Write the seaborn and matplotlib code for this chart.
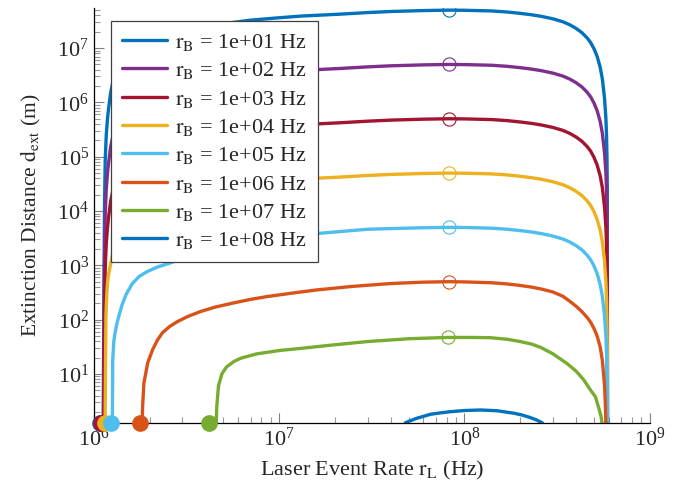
import numpy as np
import pandas as pd
import matplotlib
matplotlib.use("Agg")
import matplotlib.pyplot as plt
import seaborn as sns
from matplotlib.ticker import FixedLocator, LogLocator, NullFormatter

# r_B values (Hz) and colours (MATLAB default order)
rb_labels = ["1e+01", "1e+02", "1e+03", "1e+04", "1e+05", "1e+06", "1e+07", "1e+08"]
colors = ["#0072BD", "#7E2F8E", "#A2142F", "#EDB120", "#4DBEEE", "#D95319", "#77AC30", "#0072BD"]
x_ticks = [1e6, 1e7, 1e8, 1e9]
y_ticks = [1e1, 1e2, 1e3, 1e4, 1e5, 1e6, 1e7]

# curves: r_L (Hz) -> d_ext (m)
x_top = [1.12e6, 1.13e6, 1.14e6, 1.15e6, 1.165e6, 1.183e6, 1.2e6, 1.23e6, 1.26e6, 1.3e6, 1.4e6,
         1.5e6, 1.7e6, 2e6, 2.5e6, 3e6, 4e6, 5e6, 7e6, 1e7, 1.3e7, 2.14e7, 3e7, 4e7, 6e7, 8.26e7,
         1e8, 1.4e8, 1.7e8, 2e8, 2.3e8, 2.6e8, 3e8, 3.4e8, 3.7e8, 4e8, 4.3e8, 4.6e8, 4.8e8, 5e8,
         5.2e8, 5.4e8, 5.55e8, 5.7e8, 5.8e8, 5.85e8, 5.88e8, 5.9e8, 5.92e8]
d_rb1 = [0.5, 158, 1.26e4, 8.9e4, 2.5e5, 5.0e5, 7.9e5, 1.51e6, 2.24e6, 3.16e6, 5.25e6,
         7.05e6, 1.05e7, 1.41e7, 1.78e7, 2.09e7, 2.5e7, 2.81e7, 3.27e7, 3.62e7, 3.88e7, 4.22e7, 4.51e7, 4.72e7, 4.91e7, 5.0e7,
         4.97e7, 4.83e7, 4.62e7, 4.36e7, 4.11e7, 3.84e7, 3.46e7, 3.05e7, 2.69e7, 2.31e7, 1.93e7, 1.53e7, 1.26e7, 9.75e6,
         7.05e6, 4.46e6, 2.69e6, 1.2e6, 5.0e5, 2.24e5, 8.9e4, 2.5e4, 0.05]
d_rb2 = [0.05, 15.8, 1.26e3, 8.9e3, 2.5e4, 5.0e4, 7.9e4, 1.51e5, 2.24e5, 3.16e5, 5.25e5,
         7.05e5, 1.05e6, 1.41e6, 1.78e6, 2.09e6, 2.5e6, 2.81e6, 3.27e6, 3.62e6, 3.88e6, 4.22e6, 4.51e6, 4.72e6, 4.91e6, 5.0e6,
         4.97e6, 4.83e6, 4.62e6, 4.36e6, 4.11e6, 3.84e6, 3.46e6, 3.05e6, 2.69e6, 2.31e6, 1.93e6, 1.53e6, 1.26e6, 9.75e5,
         7.05e5, 4.46e5, 2.69e5, 1.2e5, 5.0e4, 2.24e4, 8.9e3, 2.5e3, 0.005]
d_rb3 = [0.005, 1.58, 126, 890, 2.5e3, 5.0e3, 7.9e3, 1.51e4, 2.24e4, 3.16e4, 5.25e4,
         7.05e4, 1.05e5, 1.41e5, 1.78e5, 2.09e5, 2.5e5, 2.81e5, 3.27e5, 3.62e5, 3.88e5, 4.22e5, 4.51e5, 4.72e5, 4.91e5, 5.0e5,
         4.97e5, 4.83e5, 4.62e5, 4.36e5, 4.11e5, 3.84e5, 3.46e5, 3.05e5, 2.69e5, 2.31e5, 1.93e5, 1.53e5, 1.26e5, 9.75e4,
         7.05e4, 4.46e4, 2.69e4, 1.2e4, 5.0e3, 2.24e3, 890, 250, 5e-4]
x_rb4 = [1.14e6, 1.152e6, 1.16e6, 1.17e6, 1.183e6, 1.2e6, 1.233e6, 1.26e6, 1.3e6, 1.4e6,
         1.5e6, 1.7e6, 2e6, 2.5e6, 3e6, 4e6, 5e6, 7e6, 1e7, 1.3e7, 2.14e7, 3e7, 4e7, 6e7, 8.26e7,
         1e8, 1.4e8, 1.7e8, 2e8, 2.3e8, 2.6e8, 3e8, 3.4e8, 3.7e8, 4e8, 4.3e8, 4.6e8, 4.8e8, 5e8,
         5.2e8, 5.4e8, 5.55e8, 5.7e8, 5.8e8, 5.85e8, 5.88e8, 5.9e8, 5.92e8]
d_rb4 = [0.05, 6.3, 112, 250, 480, 700, 1.1e3, 1.6e3, 2.4e3, 4.5e3,
         6.3e3, 1.05e4, 1.41e4, 1.78e4, 2.09e4, 2.5e4, 2.81e4, 3.27e4, 3.62e4, 3.88e4, 4.22e4, 4.51e4, 4.72e4, 4.91e4, 5.0e4,
         4.97e4, 4.83e4, 4.62e4, 4.36e4, 4.11e4, 3.84e4, 3.46e4, 3.05e4, 2.69e4, 2.31e4, 1.93e4, 1.53e4, 1.26e4, 9.75e3,
         7.05e3, 4.46e3, 2.69e3, 1.2e3, 500, 224, 89, 25, 5e-5]
x_rb5 = [1.255e6, 1.262e6, 1.28e6, 1.30e6, 1.33e6, 1.37e6, 1.42e6, 1.49e6, 1.61e6, 1.75e6, 1.94e6,
         2.2e6, 2.49e6, 3e6, 4e6, 5e6, 7e6, 1e7, 1.64e7, 2.99e7, 4e7, 6e7, 8.26e7,
         1e8, 1.4e8, 1.7e8, 2e8, 2.3e8, 2.6e8, 3e8, 3.4e8, 3.7e8, 4e8, 4.3e8, 4.6e8, 4.8e8, 5e8,
         5.2e8, 5.4e8, 5.55e8, 5.7e8, 5.8e8, 5.85e8, 5.88e8, 5.9e8, 5.92e8]
d_rb5 = [0.3, 18, 40, 57, 85, 125, 190, 290, 460, 620, 770,
         930, 1064, 1315, 1775, 2235, 2810, 3230, 3880, 4615, 4750, 4920, 5000,
         4970, 4830, 4620, 4360, 4110, 3840, 3460, 3050, 2690, 2310, 1930, 1530, 1260, 975,
         705, 446, 269, 120, 50, 22.4, 8.9, 2.5, 1e-5]
x_rb6 = [1.805e6, 1.83e6, 1.86e6, 1.95e6, 2.07e6, 2.2e6, 2.34e6, 2.55e6, 2.82e6, 3.2e6, 3.76e6,
         4.5e6, 5.66e6, 7e6, 8.6e6, 1.2e7, 1.6e7, 2.5e7, 4.0e7, 6e7, 8.26e7,
         1e8, 1.4e8, 1.7e8, 2e8, 2.3e8, 2.6e8, 3e8, 3.4e8, 3.7e8, 4e8, 4.3e8, 4.6e8, 4.8e8, 5e8,
         5.2e8, 5.4e8, 5.55e8, 5.7e8, 5.76e8, 5.8e8, 5.83e8]
d_rb6 = [0.3, 2.5, 6.8, 16, 27.7, 42, 57, 74, 92, 114, 141,
         170, 203, 236, 266, 311, 353, 410, 462, 490, 500,
         495, 478, 454, 426, 397, 366, 323, 269, 218, 177, 141, 109, 89, 69,
         50, 31.5, 17.7, 6.3, 2.8, 1.1, 0.05]
x_rb7 = [4.52e6, 4.6e6, 4.7e6, 4.9e6, 5.2e6, 5.7e6, 6.2e6, 7.6e6, 1.0e7, 1.3e7, 2.0e7, 3.0e7,
         5.0e7, 8.1e7, 1.1e8, 1.38e8, 1.7e8, 2.0e8, 2.3e8, 2.57e8, 3.0e8, 3.58e8, 4.0e8, 4.4e8,
         4.8e8, 5.09e8, 5.3e8, 5.45e8, 5.53e8, 5.57e8]
d_rb7 = [0.3, 2.5, 6, 10, 13.5, 17, 19.5, 23.5, 27, 29.5, 34.5, 39.5,
         44.5, 47, 47, 46.5, 43.5, 39.5, 35.5, 31, 23.5, 15.5, 11.3, 7.8,
         5.0, 3.8, 2.4, 1.7, 1.25, 0.05]
x_rb8 = [4.5e7, 4.81e7, 5.5e7, 6.56e7, 7.5e7, 8.4e7, 1.0e8, 1.22e8, 1.5e8, 1.85e8, 2.05e8,
         2.27e8, 2.45e8, 2.62e8, 2.8e8]
d_rb8 = [0.8, 1.27, 1.52, 1.81, 1.93, 2.02, 2.12, 2.17, 2.1, 1.89, 1.75,
         1.57, 1.42, 1.27, 0.9]

# optimum (open circles) and lower limit of r_L (filled dots)
peak_x = [8.26e7, 8.26e7, 8.26e7, 8.26e7, 8.26e7, 8.26e7, 8.1e7]
peak_d = [5e7, 5e6, 5e5, 5e4, 5e3, 500, 47]
start_x = [1.08e6, 1.085e6, 1.09e6, 1.14e6, 1.23e6, 1.78e6, 4.17e6]

curves = [(x_top, d_rb1), (x_top, d_rb2), (x_top, d_rb3), (x_rb4, d_rb4),
          (x_rb5, d_rb5), (x_rb6, d_rb6), (x_rb7, d_rb7), (x_rb8, d_rb8)]

sns.set_style("white")
plt.rcParams["font.family"] = ["Liberation Serif", "DejaVu Serif"]
plt.rcParams["mathtext.fontset"] = "stix"
plt.rcParams["font.size"] = 16

frames = []
for lab, (xs, ds) in zip(rb_labels, curves):
    frames.append(pd.DataFrame({"r_L": xs, "d_ext": ds, "rB": lab}))
df = pd.concat(frames, ignore_index=True)

fig = plt.figure(figsize=(6.79, 4.93), dpi=100)
ax = fig.add_axes([0.1384, 0.142, 0.8185, 0.842])

for lab, c in zip(rb_labels, colors):
    sns.lineplot(data=df[df.rB == lab], x="r_L", y="d_ext", color=c, linewidth=2.4,
                 sort=False, estimator=None, ax=ax, label=r"$\mathrm{r_B}$ = " + lab + " Hz")

ax.set_xscale("log")
ax.set_yscale("log")
ax.set_xlim(1e6, 1e9)
ax.set_ylim(1.25, 5.5e7)
y_bot = 1.25

for i in range(7):
    ax.plot(peak_x[i], peak_d[i], "o", mfc="none", mec=colors[i], ms=9.5, mew=0.8, zorder=4)
for i in range(7):
    ax.plot(start_x[i], y_bot, "o", color=colors[i], ms=11, clip_on=False, zorder=6)

ax.spines["top"].set_visible(False)
ax.spines["right"].set_visible(False)
for s in ["left", "bottom"]:
    ax.spines[s].set_linewidth(0.9)
    ax.spines[s].set_color("black")

ax.xaxis.set_major_locator(FixedLocator(x_ticks))
ax.yaxis.set_major_locator(FixedLocator(y_ticks))
ax.xaxis.set_minor_locator(LogLocator(base=10, subs=np.arange(2, 10), numticks=100))
ax.yaxis.set_minor_locator(LogLocator(base=10, subs=np.arange(2, 10), numticks=100))
ax.yaxis.set_minor_formatter(NullFormatter())
ax.xaxis.set_minor_formatter(NullFormatter())
ax.tick_params(which="major", direction="in", length=7, width=0.8, color="0.5",
               labelsize=16, left=True, bottom=True)
ax.tick_params(which="minor", direction="in", length=4, width=0.8, color="0.6",
               left=True, bottom=True)

ax.set_xlabel(r"Laser Event Rate $\mathrm{r_L}$ (Hz)", fontsize=16, labelpad=6)
ax.set_ylabel(r"Extinction Distance $\mathrm{d_{ext}}$ (m)", fontsize=15.5, labelpad=10)

handles, labels = ax.get_legend_handles_labels()
leg = ax.legend(handles[:8], labels[:8], loc="upper left", bbox_to_anchor=(0.0306, 0.969),
                borderaxespad=0, fancybox=False, framealpha=1, edgecolor="0.25",
                handlelength=2.0, handletextpad=0.4, labelspacing=0.33, borderpad=0.5,
                fontsize=16)
leg.get_frame().set_linewidth(0.9)

fig.savefig("out.png", dpi=100)
